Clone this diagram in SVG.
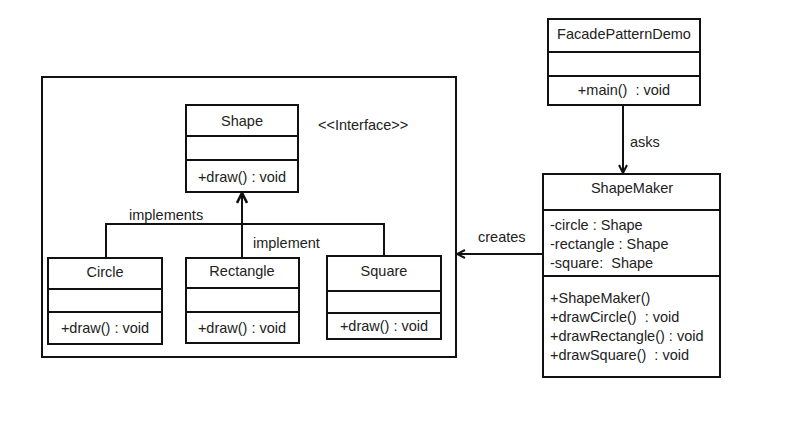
<svg xmlns="http://www.w3.org/2000/svg" width="795" height="422" viewBox="0 0 795 422">
<style>
.box{fill:#fff;stroke:#111;stroke-width:2}
.ln{stroke:#111;stroke-width:2;fill:none}
text{font-family:"Liberation Sans",Arial,sans-serif;font-size:14.5px;fill:#222;white-space:pre}
.c{text-anchor:middle}
</style>
<defs>
<marker id="arr" viewBox="0 0 10 10" refX="9" refY="5" markerWidth="10" markerHeight="10" markerUnits="userSpaceOnUse" orient="auto">
<path d="M1,1 L9,5 L1,9" fill="none" stroke="#111" stroke-width="2"/>
</marker>
<marker id="arrB" viewBox="0 0 12 12" refX="11" refY="6" markerWidth="12" markerHeight="12" markerUnits="userSpaceOnUse" orient="auto">
<path d="M1,1 L11,6 L1,11" fill="none" stroke="#111" stroke-width="2.6"/>
</marker>
</defs>
<rect width="795" height="422" fill="#fff"/>
<rect id="package" x="42" y="77" width="414" height="280" fill="none" stroke="#111" stroke-width="2"/>

<g id="shape">
<rect class="box" x="186" y="105" width="112" height="87"/>
<line class="ln" x1="186" y1="136" x2="298" y2="136"/>
<line class="ln" x1="186" y1="160" x2="298" y2="160"/>
<text class="c" x="242" y="126">Shape</text>
<text class="c" x="242" y="182">+draw() : void</text>
</g>
<text x="318" y="130">&lt;&lt;Interface&gt;&gt;</text>

<g id="circle">
<rect class="box" x="48" y="258" width="114" height="86"/>
<line class="ln" x1="48" y1="289" x2="162" y2="289"/>
<line class="ln" x1="48" y1="312" x2="162" y2="312"/>
<text class="c" x="105" y="277">Circle</text>
<text class="c" x="105" y="333">+draw() : void</text>
</g>

<g id="rectangle">
<rect class="box" x="186" y="258" width="113" height="85"/>
<line class="ln" x1="186" y1="288" x2="299" y2="288"/>
<line class="ln" x1="186" y1="312" x2="299" y2="312"/>
<text class="c" x="242" y="276">Rectangle</text>
<text class="c" x="242" y="333">+draw() : void</text>
</g>

<g id="square">
<rect class="box" x="327" y="256" width="114" height="83"/>
<line class="ln" x1="327" y1="291" x2="441" y2="291"/>
<line class="ln" x1="327" y1="313" x2="441" y2="313"/>
<text class="c" x="384" y="276">Square</text>
<text class="c" x="384" y="331">+draw() : void</text>
</g>

<g id="facade">
<rect class="box" x="548" y="19" width="152" height="86"/>
<line class="ln" x1="548" y1="52" x2="700" y2="52"/>
<line class="ln" x1="548" y1="76" x2="700" y2="76"/>
<text class="c" x="624" y="39">FacadePatternDemo</text>
<text class="c" x="624" y="95" xml:space="preserve">+main()  : void</text>
</g>

<g id="shapemaker">
<rect class="box" x="543" y="174" width="177" height="203"/>
<line class="ln" x1="543" y1="210" x2="720" y2="210"/>
<line class="ln" x1="543" y1="276" x2="720" y2="276"/>
<text class="c" x="632" y="193">ShapeMaker</text>
<text x="550" y="230">-circle : Shape</text>
<text x="550" y="249">-rectangle : Shape</text>
<text x="550" y="268" xml:space="preserve">-square:  Shape</text>
<text x="550" y="303">+ShapeMaker()</text>
<text x="550" y="322" xml:space="preserve">+drawCircle()  : void</text>
<text x="550" y="341">+drawRectangle() : void</text>
<text x="550" y="360" xml:space="preserve">+drawSquare()  : void</text>
</g>

<g id="connectors">
<path class="ln" d="M106,258 V224 H384 V256"/>
<line class="ln" x1="242" y1="258" x2="242" y2="193" marker-end="url(#arrB)"/>
<line class="ln" x1="623" y1="105" x2="623" y2="173" marker-end="url(#arr)"/>
<line class="ln" x1="543" y1="254" x2="457" y2="254" marker-end="url(#arr)"/>
<text x="129" y="220">implements</text>
<text x="253" y="248">implement</text>
<text x="630" y="147">asks</text>
<text x="478" y="242">creates</text>
</g>
</svg>
